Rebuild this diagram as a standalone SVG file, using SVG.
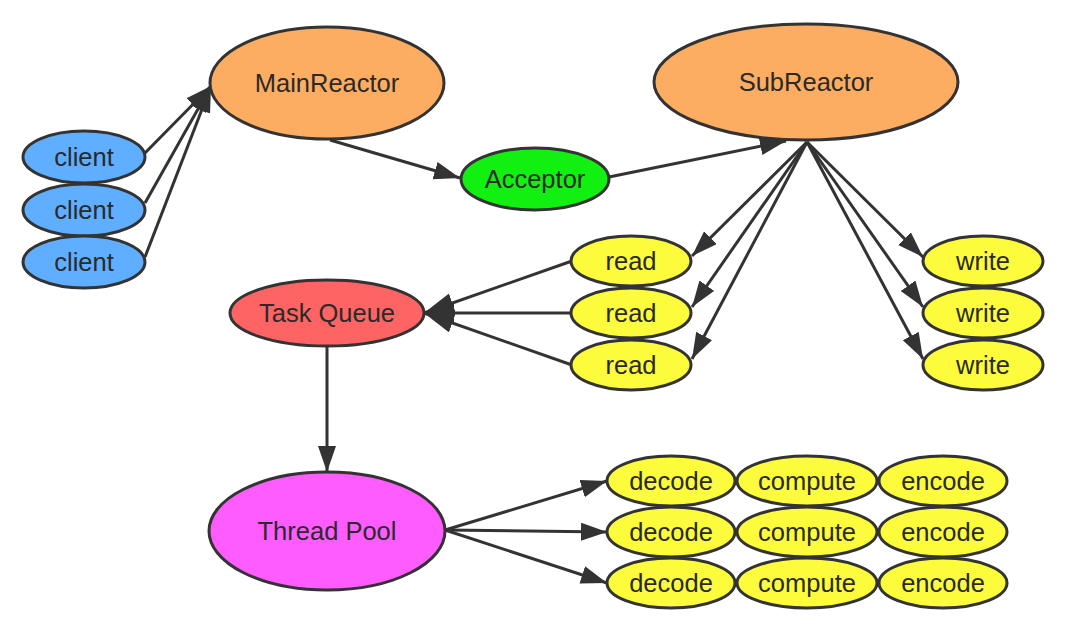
<svg xmlns="http://www.w3.org/2000/svg" width="1069" height="631" viewBox="0 0 1069 631">
<style>
.n{stroke:#333;stroke-width:3}
.t{font-family:"Liberation Sans",Arial,Helvetica,sans-serif;font-size:25.5px;fill:#2a2a2a;text-anchor:middle}
.e{stroke:#333;stroke-width:3;fill:none}
.a{marker-end:url(#ah)}
.b{marker-end:url(#ahb)}
.orange{fill:#FDAD62}
.blue{fill:#5FAEFF}
.green{fill:#11F011}
.red{fill:#FF6464}
.pink{fill:#FF5CFF}
.yellow{fill:#FCFC3C}
</style>
<defs>
<marker id="ah" markerUnits="userSpaceOnUse" markerWidth="28" markerHeight="20" refX="26" refY="9" orient="auto"><path d="M0,0 L26,9 L0,18 z" fill="#333"/></marker>
<marker id="ahb" markerUnits="userSpaceOnUse" markerWidth="32" markerHeight="22" refX="30" refY="10" orient="auto"><path d="M0,0 L30,10 L0,20 z" fill="#333"/></marker>
</defs>
<rect width="1069" height="631" fill="#fff"/>
<g id="connectors">
<line class="e a" x1="145" y1="153" x2="211" y2="86"/>
<line class="e a" x1="145" y1="203" x2="211" y2="86"/>
<line class="e a" x1="145" y1="257" x2="211" y2="86"/>
<line class="e a" x1="330" y1="140" x2="460" y2="178"/>
<line class="e a" x1="609" y1="177" x2="786" y2="141"/>
<line class="e a" x1="807" y1="142" x2="692" y2="256"/>
<line class="e a" x1="807" y1="142" x2="692" y2="307"/>
<line class="e a" x1="807" y1="142" x2="692" y2="359"/>
<line class="e a" x1="807" y1="142" x2="923" y2="257"/>
<line class="e a" x1="807" y1="142" x2="923" y2="307"/>
<line class="e a" x1="807" y1="142" x2="923" y2="359"/>
<line class="e b" x1="572" y1="261" x2="424" y2="313"/>
<line class="e b" x1="572" y1="313" x2="424" y2="313"/>
<line class="e b" x1="572" y1="365" x2="424" y2="313"/>
<line class="e a" x1="327" y1="347" x2="327" y2="472"/>
<line class="e a" x1="445" y1="530" x2="607" y2="481"/>
<line class="e a" x1="445" y1="530" x2="607" y2="532"/>
<line class="e a" x1="445" y1="530" x2="607" y2="583"/>
</g>
<g id="MainReactor"><ellipse class="n orange" cx="327" cy="83" rx="117" ry="56"/><text class="t" x="327" y="92">MainReactor</text></g>
<g id="SubReactor"><ellipse class="n orange" cx="806" cy="82" rx="152" ry="58"/><text class="t" x="806" y="91">SubReactor</text></g>
<g id="client1"><ellipse class="n blue" cx="84" cy="157" rx="61" ry="26"/><text class="t" x="84" y="166">client</text></g>
<g id="client2"><ellipse class="n blue" cx="84" cy="210" rx="61" ry="26"/><text class="t" x="84" y="219">client</text></g>
<g id="client3"><ellipse class="n blue" cx="84" cy="262" rx="61" ry="26"/><text class="t" x="84" y="271">client</text></g>
<g id="Acceptor"><ellipse class="n green" cx="535" cy="179" rx="74" ry="31"/><text class="t" x="535" y="188">Acceptor</text></g>
<g id="TaskQueue"><ellipse class="n red" cx="327" cy="313" rx="97" ry="33"/><text class="t" x="327" y="322">Task Queue</text></g>
<g id="read1"><ellipse class="n yellow" cx="631" cy="261" rx="60" ry="25"/><text class="t" x="631" y="270">read</text></g>
<g id="read2"><ellipse class="n yellow" cx="631" cy="313" rx="60" ry="25"/><text class="t" x="631" y="322">read</text></g>
<g id="read3"><ellipse class="n yellow" cx="631" cy="365" rx="60" ry="25"/><text class="t" x="631" y="374">read</text></g>
<g id="write1"><ellipse class="n yellow" cx="983" cy="261" rx="60" ry="25"/><text class="t" x="983" y="270">write</text></g>
<g id="write2"><ellipse class="n yellow" cx="983" cy="313" rx="60" ry="25"/><text class="t" x="983" y="322">write</text></g>
<g id="write3"><ellipse class="n yellow" cx="983" cy="365" rx="60" ry="25"/><text class="t" x="983" y="374">write</text></g>
<g id="ThreadPool"><ellipse class="n pink" cx="327" cy="531" rx="118" ry="59"/><text class="t" x="327" y="540">Thread Pool</text></g>
<g id="decode1"><ellipse class="n yellow" cx="671" cy="481" rx="64" ry="25"/><text class="t" x="671" y="490">decode</text></g>
<g id="compute1"><ellipse class="n yellow" cx="807" cy="481" rx="70" ry="25"/><text class="t" x="807" y="490">compute</text></g>
<g id="encode1"><ellipse class="n yellow" cx="943" cy="481" rx="64" ry="25"/><text class="t" x="943" y="490">encode</text></g>
<g id="decode2"><ellipse class="n yellow" cx="671" cy="532" rx="64" ry="25"/><text class="t" x="671" y="541">decode</text></g>
<g id="compute2"><ellipse class="n yellow" cx="807" cy="532" rx="70" ry="25"/><text class="t" x="807" y="541">compute</text></g>
<g id="encode2"><ellipse class="n yellow" cx="943" cy="532" rx="64" ry="25"/><text class="t" x="943" y="541">encode</text></g>
<g id="decode3"><ellipse class="n yellow" cx="671" cy="583" rx="64" ry="25"/><text class="t" x="671" y="592">decode</text></g>
<g id="compute3"><ellipse class="n yellow" cx="807" cy="583" rx="70" ry="25"/><text class="t" x="807" y="592">compute</text></g>
<g id="encode3"><ellipse class="n yellow" cx="943" cy="583" rx="64" ry="25"/><text class="t" x="943" y="592">encode</text></g>
</svg>
